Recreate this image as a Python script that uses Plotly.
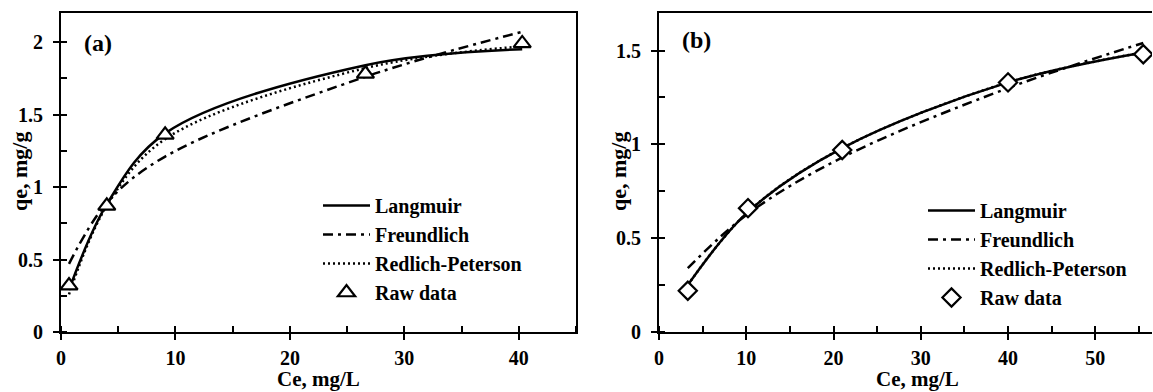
import plotly.graph_objects as go

# ---------------- data ----------------
# Panel (a)
ce_a = [0.7, 4.0, 9.1, 26.6, 40.3]
raw_a = [0.32, 0.87, 1.36, 1.78, 1.99]
langmuir_a = [0.29, 0.88, 1.37, 1.84, 1.95]
freundlich_a = [0.47, 0.89, 1.21, 1.76, 2.07]
redlich_a = [0.26, 0.87, 1.33, 1.82, 1.97]

# Panel (b)
ce_b = [3.3, 10.2, 21.0, 40.0, 55.5]
raw_b = [0.22, 0.66, 0.97, 1.33, 1.48]
langmuir_b = [0.25, 0.64, 0.98, 1.33, 1.49]
freundlich_b = [0.34, 0.63, 0.93, 1.30, 1.54]
redlich_b = [0.25, 0.64, 0.98, 1.33, 1.49]

series_names = ["Langmuir", "Freundlich", "Redlich-Peterson", "Raw data"]
x_title = "Ce, mg/L"
y_title = "qe, mg/g"
panel_labels = ["(a)", "(b)"]

# ---------------- layout helpers ----------------
W, H = 1153, 392
FONT = "Times New Roman, Liberation Serif, serif"
BLACK = "black"


def fx(p):
    return p / W


def fy(p):
    return 1 - p / H


tick_font = dict(family=FONT, size=20, color=BLACK, weight="bold")
leg_font = dict(family=FONT, size=20, color=BLACK, weight="bold")

fig = go.Figure()


def add_panel(xs, raw, lang, freu, redl, xa, ya, legend, symbol, msize):
    fig.add_trace(go.Scatter(x=xs, y=lang, mode="lines", name=series_names[0],
                             line=dict(color=BLACK, width=2.5, shape="spline"),
                             xaxis=xa, yaxis=ya, legend=legend))
    fig.add_trace(go.Scatter(x=xs, y=freu, mode="lines", name=series_names[1],
                             line=dict(color=BLACK, width=2.5, shape="spline",
                                       dash="10px,5px,3px,5px"),
                             xaxis=xa, yaxis=ya, legend=legend))
    fig.add_trace(go.Scatter(x=xs, y=redl, mode="lines", name=series_names[2],
                             line=dict(color=BLACK, width=2.5, shape="spline",
                                       dash="2px,3px"),
                             xaxis=xa, yaxis=ya, legend=legend))
    fig.add_trace(go.Scatter(x=xs, y=raw, mode="markers", name=series_names[3],
                             marker=dict(symbol=symbol, size=msize, color="white",
                                         line=dict(color=BLACK, width=2.2)),
                             xaxis=xa, yaxis=ya, legend=legend))


add_panel(ce_a, raw_a, langmuir_a, freundlich_a, redlich_a, "x", "y", "legend",
          "triangle-up", 15)
add_panel(ce_b, raw_b, langmuir_b, freundlich_b, redlich_b, "x2", "y2", "legend2",
          "diamond", 14)

# dummy traces so the overlay (inside major tick) axes are drawn
fig.add_trace(go.Scatter(x=[None], y=[None], xaxis="x3", yaxis="y3",
                         showlegend=False, hoverinfo="skip"))
fig.add_trace(go.Scatter(x=[None], y=[None], xaxis="x4", yaxis="y4",
                         showlegend=False, hoverinfo="skip"))

ydom = [fy(332), fy(13)]


def main_axis(domain, rng, dtick, mdtick, anchor, mirror, standoff):
    return dict(domain=domain, range=rng, anchor=anchor, showline=True,
                linecolor=BLACK, linewidth=2, mirror=mirror, ticks="outside",
                ticklen=6, tickwidth=2, tickcolor=BLACK, tick0=0, dtick=dtick,
                minor=dict(ticks="inside", ticklen=6, tickwidth=2, tickcolor=BLACK,
                           dtick=mdtick, tick0=0, showgrid=False),
                showgrid=False, zeroline=False, tickfont=tick_font,
                ticklabelstandoff=standoff, automargin=False)


def overlay_axis(over, anchor, rng, dtick):
    return dict(overlaying=over, anchor=anchor, range=rng, ticks="inside",
                ticklen=6, tickwidth=2, tickcolor=BLACK, tick0=0, dtick=dtick,
                showticklabels=False, showline=False, showgrid=False,
                zeroline=False, automargin=False)


xdom_a = [fx(61), fx(576)]
xdom_b = [fx(659), fx(1152)]

fig.update_layout(
    width=W, height=H,
    margin=dict(l=0, r=0, t=0, b=0, pad=0, autoexpand=False),
    paper_bgcolor="white", plot_bgcolor="white",
    xaxis=main_axis(xdom_a, [0, 45], 10, 5, "y", True, 1),
    yaxis=main_axis(ydom, [0, 2.2], 0.5, 0.25, "x", True, 6),
    xaxis2=main_axis(xdom_b, [0, 56.5], 10, 5, "y2", True, 1),
    yaxis2=main_axis(ydom, [0, 1.7], 0.5, 0.25, "x2", False, 6),
    xaxis3=overlay_axis("x", "y", [0, 45], 10),
    yaxis3=overlay_axis("y", "x", [0, 2.2], 0.5),
    xaxis4=overlay_axis("x2", "y2", [0, 56.5], 10),
    yaxis4=overlay_axis("y2", "x2", [0, 1.7], 0.5),
    legend=dict(x=fx(318), y=fy(186), xanchor="left", yanchor="top",
                bgcolor="rgba(0,0,0,0)", font=leg_font, itemwidth=47,
                tracegroupgap=0),
    legend2=dict(x=fx(923), y=fy(191), xanchor="left", yanchor="top",
                 bgcolor="rgba(0,0,0,0)", font=leg_font, itemwidth=47,
                 tracegroupgap=0),
    showlegend=True,
)

ann_font = dict(family=FONT, size=22, color=BLACK, weight="bold")
xt_font = dict(family=FONT, size=21, color=BLACK, weight="bold")
lab_font = dict(family=FONT, size=24, color=BLACK, weight="bold")
annotations = [
    dict(x=fx(318), y=fy(392), text=x_title, showarrow=False, font=xt_font,
         xref="paper", yref="paper", xanchor="center", yanchor="bottom",
         borderpad=0),
    dict(x=fx(917), y=fy(392), text=x_title, showarrow=False, font=xt_font,
         xref="paper", yref="paper", xanchor="center", yanchor="bottom",
         borderpad=0),
    dict(x=fx(20), y=fy(172), text=y_title, textangle=-90, showarrow=False,
         font=ann_font, xref="paper", yref="paper", xanchor="center",
         yanchor="middle"),
    dict(x=fx(619), y=fy(172), text=y_title, textangle=-90, showarrow=False,
         font=ann_font, xref="paper", yref="paper", xanchor="center",
         yanchor="middle"),
    dict(x=fx(82), y=fy(43), text=panel_labels[0], showarrow=False, font=lab_font,
         xref="paper", yref="paper", xanchor="left", yanchor="middle"),
    dict(x=fx(680), y=fy(40), text=panel_labels[1], showarrow=False, font=lab_font,
         xref="paper", yref="paper", xanchor="left", yanchor="middle"),
]
fig.update_layout(annotations=annotations)

fig.write_html("out.html",
               config={"displayModeBar": False},
               post_script="document.body.style.margin='0px';"
                           "document.body.style.padding='0px';")
